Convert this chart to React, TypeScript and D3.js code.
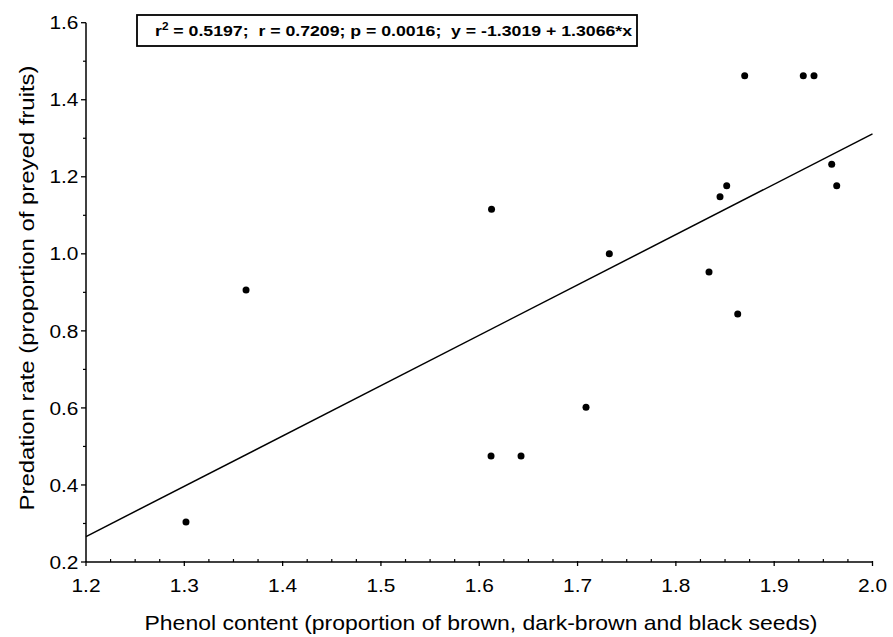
import React from "react";
import * as d3 from "d3";

const phenol = [1.3017, 1.3628, 1.6125, 1.612, 1.6425, 1.7086, 1.7323, 1.8337, 1.8449, 1.8517, 1.8629, 1.87, 1.9296, 1.9405, 1.9585, 1.9636];
const predation = [0.304, 0.906, 1.1156, 0.475, 0.475, 0.602, 1.0, 0.953, 1.148, 1.177, 0.844, 1.4625, 1.4625, 1.4625, 1.2325, 1.177];
const xTicks = [1.2, 1.3, 1.4, 1.5, 1.6, 1.7, 1.8, 1.9, 2.0];
const yTicks = [0.2, 0.4, 0.6, 0.8, 1.0, 1.2, 1.4, 1.6];
const intercept = -1.3019;
const slope = 1.3066;
const statsRest = " = 0.5197;  r = 0.7209; p = 0.0016;  y = -1.3019 + 1.3066*x";
const xLabel = "Phenol content (proportion of brown, dark-brown and black seeds)";
const yLabel = "Predation rate (proportion of preyed fruits)";

export default function App() {
  const W = 893, H = 637;
  const x = d3.scaleLinear().domain([1.2, 2.0]).range([86, 872.5]);
  const y = d3.scaleLinear().domain([0.2, 1.6]).range([562, 22.7]);
  const xMinor = d3.range(1.2, 2.0001, 0.025).filter((v) => Math.abs(Math.round(v * 10) - v * 10) > 1e-6);
  const yMinor = d3.range(0.3, 1.6, 0.2);
  const line = d3.line<number>().x((d) => x(d)).y((d) => y(intercept + slope * d));
  const font = "Liberation Sans, Arial, sans-serif";
  const sx = 1.1;
  return (
    <svg width={W} height={H} style={{ position: "absolute", left: 0, top: 0, background: "#fff" }} fontFamily={font}>
      <rect x={0} y={0} width={W} height={H} fill="#fff" />
      <line x1={x(1.2)} x2={x(2.0)} y1={y(0.2)} y2={y(0.2)} stroke="#000" strokeWidth={1.5} />
      <line x1={x(1.2)} x2={x(1.2)} y1={y(0.2)} y2={y(1.6)} stroke="#000" strokeWidth={1.5} />
      {xTicks.map((t) => (
        <g key={"xt" + t}>
          <line x1={x(t)} x2={x(t)} y1={y(0.2) - 1} y2={y(0.2) + 4} stroke="#000" strokeWidth={1.3} />
          <g transform={`translate(${x(t)},592) scale(${sx},1)`}>
            <text x={0} y={0} fontSize={19} textAnchor="middle" fill="#000">{t.toFixed(1)}</text>
          </g>
        </g>
      ))}
      {xMinor.map((t) => (
        <line key={"xm" + t} x1={x(t)} x2={x(t)} y1={y(0.2)} y2={y(0.2) - 3} stroke="#000" strokeWidth={1.2} />
      ))}
      {yTicks.map((t) => (
        <g key={"yt" + t}>
          <line x1={x(1.2) - 5} x2={x(1.2)} y1={y(t)} y2={y(t)} stroke="#000" strokeWidth={1.3} />
          <g transform={`translate(78.5,${y(t)}) scale(${sx},1)`}>
            <text x={0} y={0} dy="0.35em" fontSize={19} textAnchor="end" fill="#000">{t.toFixed(1)}</text>
          </g>
        </g>
      ))}
      {yMinor.map((t) => (
        <line key={"ym" + t} x1={x(1.2) - 3} x2={x(1.2)} y1={y(t)} y2={y(t)} stroke="#000" strokeWidth={1.2} />
      ))}
      <path d={line([1.2, 2.0]) || ""} fill="none" stroke="#000" strokeWidth={1.5} />
      {phenol.map((p, i) => (
        <circle key={"p" + i} cx={x(p)} cy={y(predation[i])} r={3.5} fill="#000" />
      ))}
      <rect x={137} y={15} width={500} height={31} fill="#fff" stroke="#000" strokeWidth={1.8} />
      <g transform="translate(155,36) scale(1.18,1)">
        <text x={0} y={0} fontSize={15} fontWeight="bold" fill="#000" xmlSpace="preserve">
          <tspan>r</tspan>
          <tspan dy={-6} fontSize={10}>2</tspan>
          <tspan dy={6}>{statsRest}</tspan>
        </text>
      </g>
      <text x={481} y={630} fontSize={21} textAnchor="middle" fill="#000" textLength={673} lengthAdjust="spacingAndGlyphs">{xLabel}</text>
      <text transform={`translate(34, 288) rotate(-90)`} fontSize={21} textAnchor="middle" fill="#000" textLength={445} lengthAdjust="spacingAndGlyphs">{yLabel}</text>
    </svg>
  );
}
